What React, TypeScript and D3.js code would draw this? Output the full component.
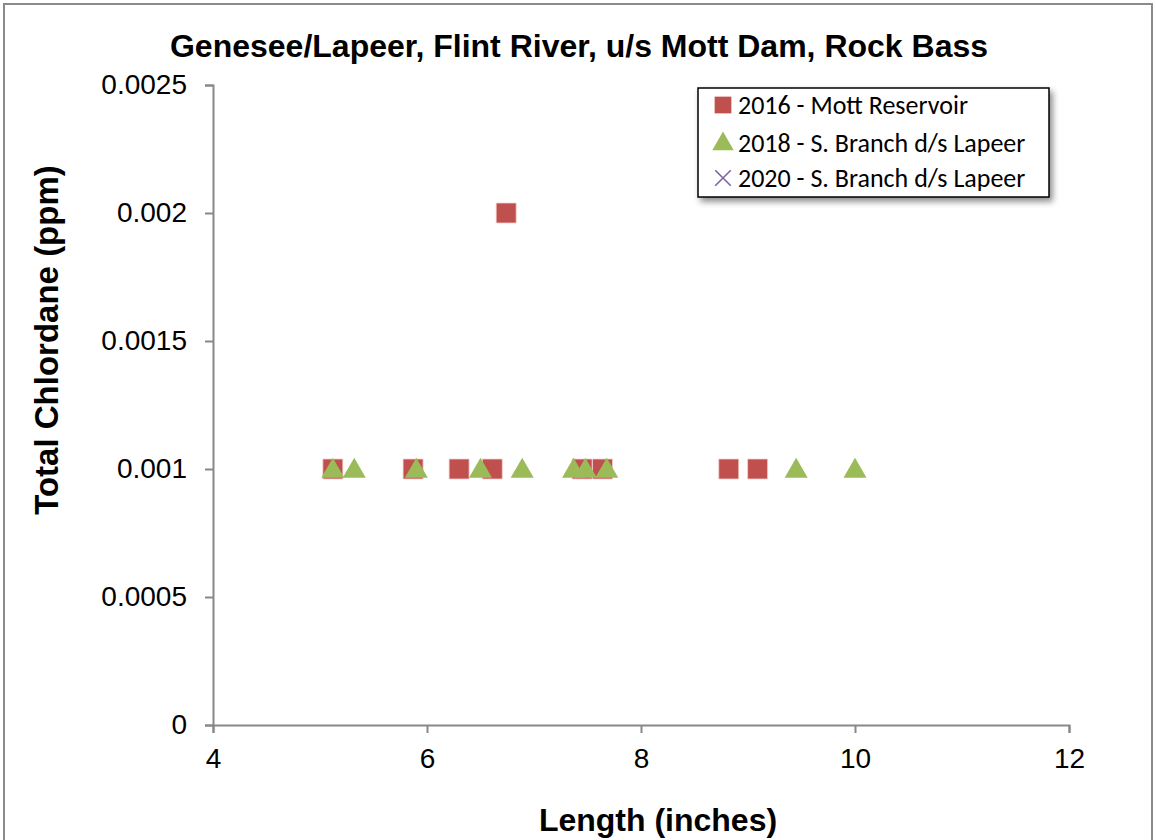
import React, { useEffect, useRef } from "react";
import * as d3 from "d3";

const mott2016Length = [5.12, 5.87, 6.3, 6.61, 6.74, 7.45, 7.64, 8.82, 9.09];
const mott2016Chlordane = [0.001, 0.001, 0.001, 0.001, 0.002, 0.001, 0.001, 0.001, 0.001];
const branch2018Length = [5.12, 5.32, 5.9, 6.5, 6.89, 7.37, 7.48, 7.68, 9.45, 10.0];
const branch2018Chlordane = [0.001, 0.001, 0.001, 0.001, 0.001, 0.001, 0.001, 0.001, 0.001, 0.001];
const xTicks = [4, 6, 8, 10, 12];
const yTicks = [0, 0.0005, 0.001, 0.0015, 0.002, 0.0025];
const legendLabels = [
  "2016 - Mott Reservoir",
  "2018 - S. Branch d/s Lapeer",
  "2020 - S. Branch d/s Lapeer",
];

const App: React.FC = () => {
  const svgRef = useRef<SVGSVGElement>(null);

  useEffect(() => {
    const svg = d3.select(svgRef.current);
    svg.selectAll("*").remove();

    const left = 213;
    const right = 1069;
    const top = 85;
    const bottom = 725;
    const axisColor = "#888";
    const font = "'Liberation Sans', Arial, sans-serif";

    // outer chart border
    svg
      .append("rect")
      .attr("x", 4)
      .attr("y", 4)
      .attr("width", 1148)
      .attr("height", 860)
      .attr("fill", "#fff")
      .attr("stroke", "#8a8a8a")
      .attr("stroke-width", 2);

    const x = d3.scaleLinear().domain([4, 12]).range([left, right]);
    const y = d3.scaleLinear().domain([0, 0.0025]).range([bottom, top]);

    const xAxis = svg
      .append("g")
      .attr("transform", `translate(0,${bottom})`)
      .call(
        d3
          .axisBottom(x)
          .tickValues(xTicks)
          .tickSize(8)
          .tickPadding(15)
          .tickFormat((d) => String(d))
      );
    xAxis.select(".domain").attr("stroke", axisColor).attr("stroke-width", 2);
    xAxis.selectAll(".tick line").attr("stroke", axisColor).attr("stroke-width", 2);
    xAxis
      .selectAll("text")
      .attr("fill", "#000")
      .style("font-family", font)
      .style("font-size", "28px");

    const yAxis = svg
      .append("g")
      .attr("transform", `translate(${left},0)`)
      .call(
        d3
          .axisLeft(y)
          .tickValues(yTicks)
          .tickSize(8)
          .tickPadding(18)
          .tickFormat((d) => String(+d))
      );
    yAxis.select(".domain").attr("stroke", axisColor).attr("stroke-width", 2);
    yAxis.selectAll(".tick line").attr("stroke", axisColor).attr("stroke-width", 2);
    yAxis
      .selectAll("text")
      .attr("fill", "#000")
      .style("font-family", font)
      .style("font-size", "28px");

    // title and axis labels
    svg
      .append("text")
      .attr("x", 579)
      .attr("y", 57)
      .attr("text-anchor", "middle")
      .style("font-family", font)
      .style("font-size", "32px")
      .style("font-weight", "bold")
      .text("Genesee/Lapeer, Flint River, u/s Mott Dam, Rock Bass");

    svg
      .append("text")
      .attr("transform", `translate(58,340) rotate(-90)`)
      .attr("text-anchor", "middle")
      .style("font-family", font)
      .style("font-size", "33px")
      .style("font-weight", "bold")
      .text("Total Chlordane (ppm)");

    svg
      .append("text")
      .attr("x", 658)
      .attr("y", 831)
      .attr("text-anchor", "middle")
      .style("font-family", font)
      .style("font-size", "32px")
      .style("font-weight", "bold")
      .text("Length (inches)");

    const squareSym = d3.symbol().type(d3.symbolSquare).size(400);
    const triSym = d3.symbol().type(d3.symbolTriangle).size(230);

    svg
      .append("g")
      .selectAll("path")
      .data(mott2016Length.map((l, i) => [l, mott2016Chlordane[i]]))
      .enter()
      .append("path")
      .attr("d", squareSym()!)
      .attr("transform", (d) => `translate(${x(d[0])},${y(d[1])})`)
      .attr("fill", "#c0504d")
      .attr("stroke", "#f4d0cf")
      .attr("stroke-width", 0.8);

    svg
      .append("g")
      .selectAll("path")
      .data(branch2018Length.map((l, i) => [l, branch2018Chlordane[i]]))
      .enter()
      .append("path")
      .attr("d", triSym()!)
      .attr("transform", (d) => `translate(${x(d[0])},${y(d[1]) + 2})`)
      .attr("fill", "#9bbb59");

    // legend
    const defs = svg.append("defs");
    const filter = defs
      .append("filter")
      .attr("id", "shadow")
      .attr("x", "-10%")
      .attr("y", "-10%")
      .attr("width", "130%")
      .attr("height", "140%");
    filter
      .append("feDropShadow")
      .attr("dx", 3)
      .attr("dy", 4)
      .attr("stdDeviation", 3)
      .attr("flood-color", "#000")
      .attr("flood-opacity", 0.45);

    const lg = svg.append("g").attr("transform", "translate(698,88)");
    lg.append("rect")
      .attr("width", 351)
      .attr("height", 109)
      .attr("fill", "#fff")
      .attr("stroke", "#000")
      .attr("stroke-width", 1.5)
      .attr("filter", "url(#shadow)");

    const rowY = [17, 55, 90];
    lg.append("path")
      .attr("d", d3.symbol().type(d3.symbolSquare).size(280)()!)
      .attr("transform", `translate(25,${rowY[0]})`)
      .attr("fill", "#c0504d");
    lg.append("path")
      .attr("d", d3.symbol().type(d3.symbolTriangle).size(200)()!)
      .attr("transform", `translate(25,${rowY[1] + 1})`)
      .attr("fill", "#9bbb59");
    lg.append("path")
      .attr("d", d3.symbol().type(d3.symbolX).size(160)()!)
      .attr("transform", `translate(25,${rowY[2]})`)
      .attr("fill", "none")
      .attr("stroke", "#8064a2")
      .attr("stroke-width", 1.6);

    lg.selectAll("text.lbl")
      .data(legendLabels)
      .enter()
      .append("text")
      .attr("class", "lbl")
      .attr("x", 40)
      .attr("y", (_, i) => rowY[i])
      .attr("dy", "0.35em")
      .style("font-family", "Carlito, 'Open Sans', sans-serif")
      .style("font-size", "26px")
      .text((d) => d);
  }, []);

  return (
    <svg
      ref={svgRef}
      width={1156}
      height={840}
      style={{ display: "block", position: "absolute", left: 0, top: 0 }}
    />
  );
};

export default App;
